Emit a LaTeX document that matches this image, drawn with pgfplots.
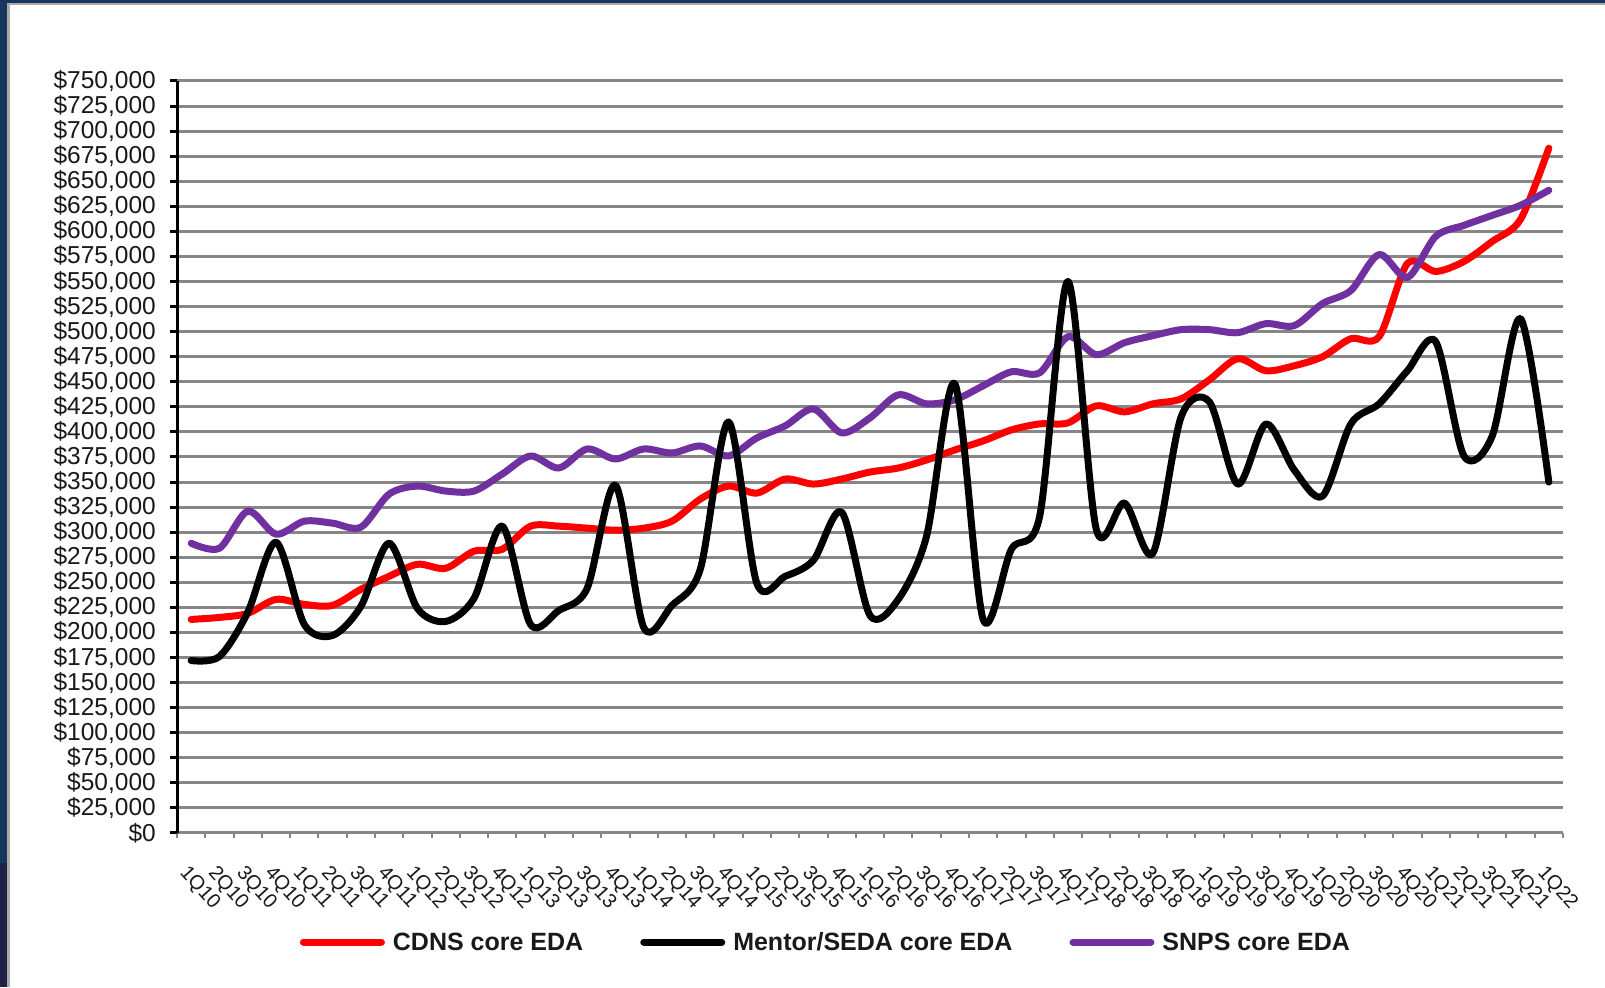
\documentclass[border=0pt]{standalone}
\usepackage{pgfplots}
\pgfplotsset{compat=1.18}
\usepackage{pgfplotstable}
\usepackage{fontspec}
\setmainfont{Liberation Sans}
\definecolor{cdns}{RGB}{255,0,0}
\definecolor{snps}{RGB}{112,48,160}
\definecolor{navy}{RGB}{23,54,93}
\definecolor{navydark}{RGB}{32,32,72}
\definecolor{gridgray}{RGB}{134,134,134}
\definecolor{framegray}{RGB}{170,170,170}

\pgfplotstableread{
i label cdns mentor snps
0 1Q10 213000 172000 289000
1 2Q10 215000 176000 284000
2 3Q10 219000 220000 321000
3 4Q10 233000 290000 298000
4 1Q11 228000 208000 311000
5 2Q11 227000 197000 309000
6 3Q11 243000 226000 305000
7 4Q11 256000 289000 338000
8 1Q12 268000 224000 346000
9 2Q12 264000 211000 341000
10 3Q12 281000 234000 341000
11 4Q12 283000 306000 358000
12 1Q13 306000 208000 376000
13 2Q13 306000 222000 364000
14 3Q13 304000 244000 383000
15 4Q13 302000 347000 373000
16 1Q14 304000 205000 383000
17 2Q14 311000 227000 379000
18 3Q14 333000 263000 386000
19 4Q14 346000 410000 376000
20 1Q15 339000 249000 394000
21 2Q15 353000 256000 406000
22 3Q15 348000 272000 423000
23 4Q15 353000 320000 399000
24 1Q16 360000 217000 414000
25 2Q16 364000 233000 437000
26 3Q16 372000 296000 428000
27 4Q16 382000 448000 432000
28 1Q17 391000 213000 446000
29 2Q17 402000 283000 460000
30 3Q17 408000 316000 459000
31 4Q17 409000 550000 495000
32 1Q18 426000 303000 477000
33 2Q18 420000 329000 489000
34 3Q18 428000 279000 496000
35 4Q18 433000 415000 502000
36 1Q19 452000 430000 502000
37 2Q19 473000 348000 499000
38 3Q19 461000 408000 508000
39 4Q19 466000 362000 506000
40 1Q20 475000 336000 528000
41 2Q20 493000 408000 541000
42 3Q20 495000 428000 577000
43 4Q20 568000 461000 554000
44 1Q21 560000 490000 595000
45 2Q21 570000 376000 606000
46 3Q21 590000 396000 616000
47 4Q21 612000 513000 626000
48 1Q22 683000 350000 641000
}\eda

\begin{document}
\begin{tikzpicture}[x=1bp,y=1bp]
\path[use as bounding box] (0,0) rectangle (1605,987);
\fill[white] (0,0) rectangle (1605,987);
\fill[navy] (0,124) rectangle (7,987);
\fill[navydark] (0,0) rectangle (7,124);
\fill[navy] (0,984) rectangle (1605,987);
\fill[framegray] (7,0) rectangle (9.5,984);
\fill[framegray] (7,981.5) rectangle (1605,984);
\begin{axis}[
  at={(177bp,154bp)}, anchor=south west,
  scale only axis, width=1386bp, height=752bp,
  xmin=-0.5, xmax=48.5, ymin=0, ymax=750000,
  ytick distance=25000,
  scaled y ticks=false,
  xtick={0,1,...,48},
  xticklabels from table={\eda}{label},
  minor xtick={-0.5,0.5,...,48.5},
  axis x line*=bottom, axis y line*=left,
  axis line style={-},
  x axis line style={draw=gridgray, line width=3bp},
  y axis line style={draw=black, line width=3bp},
  ymajorgrids,
  grid style={draw=gridgray, line width=3bp},
  tick align=outside,
  major tick length=7bp, minor tick length=5bp,
  ytick style={black, line width=3bp},
  major x tick style={draw=none},
  minor x tick style={draw=gridgray, line width=2bp},
  yticklabel={\$\pgfmathprintnumber[assume math mode=true, fixed, precision=0, 1000 sep={,}]{\tick}},
  yticklabel style={font=\fontsize{24.5bp}{25bp}\selectfont, anchor=east, inner sep=0pt, xshift=-14bp, text=black!90},
  xticklabel style={font=\fontsize{20bp}{20bp}\selectfont, rotate=-48, anchor=north west, inner sep=0pt, xshift=17bp, yshift=-17bp, text=black!90},
  legend columns=3,
  legend style={at={(axis description cs:0.0887,-0.145)}, anchor=west, draw=none, fill=none,
    inner sep=0pt, outer sep=0pt, font=\bfseries\fontsize{25bp}{26bp}\selectfont,
    column sep=8bp, /tikz/every even column/.append style={column sep=57bp},
    nodes={inner sep=0pt, text=black!90}},
  legend image code/.code={\draw[#1, line width=7bp, line cap=round] (3.5bp,0bp) -- (81.5bp,0bp);},
  every axis plot/.append style={line width=7bp, line join=round, line cap=round},
]
\addplot[cdns, smooth, forget plot] table[x=i, y=cdns]{\eda};
\addplot[snps, smooth, forget plot] table[x=i, y=snps]{\eda};
\addplot[black, smooth, forget plot] table[x=i, y=mentor]{\eda};
\addlegendimage{cdns}\addlegendentry{CDNS core EDA}
\addlegendimage{black}\addlegendentry{Mentor/SEDA core EDA}
\addlegendimage{snps}\addlegendentry{SNPS core EDA}
\end{axis}
\end{tikzpicture}
\end{document}
